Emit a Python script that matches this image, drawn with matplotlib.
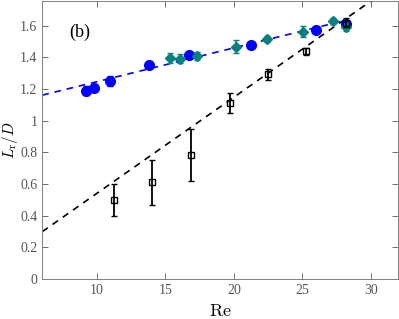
import matplotlib.pyplot as plt
import numpy as np
from matplotlib.ticker import FuncFormatter

plt.rcParams["mathtext.fontset"] = "cm"
plt.rcParams["font.family"] = "Liberation Serif"

# black squares
re_sq = [11.23, 14.03, 16.88, 19.70, 22.50, 25.25, 28.17]
lr_sq = [0.502, 0.613, 0.785, 1.110, 1.291, 1.438, 1.618]
err_sq_lo = [0.105, 0.143, 0.168, 0.063, 0.034, 0.022, 0.030]
err_sq_hi = [0.101, 0.141, 0.164, 0.063, 0.033, 0.022, 0.030]

# blue circles
re_circ = [9.17, 9.75, 10.92, 13.79, 16.71, 21.21, 26.03, 28.17]
lr_circ = [1.190, 1.207, 1.251, 1.350, 1.415, 1.475, 1.572, 1.610]
err_circ = [0.030, 0.022, 0.030, 0.018, 0.015, 0.018, 0.020, 0.020]

# teal diamonds
re_dia = [15.32, 16.05, 17.31, 20.14, 22.38, 25.05, 27.27, 28.15]
lr_dia = [1.396, 1.390, 1.406, 1.467, 1.513, 1.562, 1.627, 1.593]
err_dia = [0.030, 0.028, 0.025, 0.042, 0.020, 0.032, 0.020, 0.025]

# linear fits (slope, intercept)
fit_black = (0.0606, -0.064)
fit_blue = (0.0213, 1.033)

fig = plt.figure(figsize=(3.99, 3.19), dpi=100)
ax = fig.add_axes([0.106, 0.125, 0.892, 0.873])

xb = np.array([6, 32])
ax.plot(xb, fit_black[0] * xb + fit_black[1], "--", color="k", lw=1.2, dashes=(4, 3.5))
xl = np.array([6, 28.3])
ax.plot(xl, fit_blue[0] * xl + fit_blue[1], "--", color="b", lw=1.2, dashes=(4, 3.5))

ax.errorbar(re_circ, lr_circ, yerr=err_circ, fmt="o", color="b", ms=7,
            capsize=2, elinewidth=1.2, zorder=3)
ax.errorbar(re_dia, lr_dia, yerr=err_dia, fmt="D", color="#088080", ms=5.5,
            capsize=2, elinewidth=1.2, zorder=4)
ax.errorbar(re_sq, lr_sq, yerr=[err_sq_lo, err_sq_hi], fmt="s", mfc="none",
            mec="k", color="k", ms=5, mew=1.0, capsize=2, elinewidth=1.3, zorder=5)

ax.text(8.75, 1.555, "(b)", fontsize=13, ha="center", va="center")

ax.set_xlim(6, 32)
ax.set_ylim(0, 1.757)
ax.set_xticks([10, 15, 20, 25, 30])
ax.set_yticks(np.arange(0, 1.61, 0.2))
ax.yaxis.set_major_formatter(FuncFormatter(lambda v, p: f"{v:g}"))
ax.tick_params(direction="in", top=True, right=True, labelsize=10,
               colors="#555555", length=4, width=0.6)
for s in ax.spines.values():
    s.set_color("#808080")
    s.set_linewidth(0.7)

ax.set_xlabel(r"$\mathrm{Re}$", fontsize=13)
ax.set_ylabel(r"$L_\mathrm{r}/D$", fontsize=11)
ax.yaxis.set_label_coords(-0.062, 0.5)

fig.savefig("out.png", dpi=100)
